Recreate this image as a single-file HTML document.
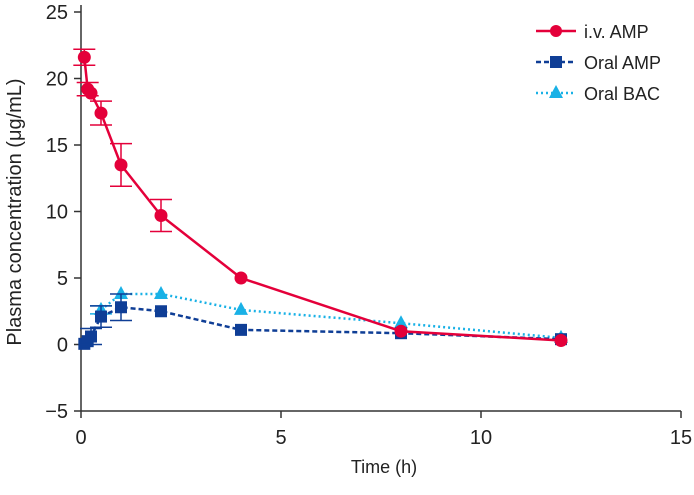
<!DOCTYPE html>
<html><head><meta charset="utf-8"><style>
html,body{margin:0;padding:0;background:#fff;}
svg text{font-family:"Liberation Sans",sans-serif;fill:#222;}
</style></head><body>
<svg id="chart" width="694" height="490" xmlns="http://www.w3.org/2000/svg">
<g id="axes"></g><g id="series"></g>
<g>
 <g>
  <line x1="536" y1="31" x2="576" y2="31" stroke="#e4003a" stroke-width="2.5"/>
  <circle cx="556" cy="31" r="6" fill="#e4003a"/>
  <text x="584" y="38" font-size="18">i.v. AMP</text></g>
 <g>
  <line x1="536" y1="62" x2="576" y2="62" stroke="#0f3e96" stroke-width="2.5" stroke-dasharray="5,3"/>
  <rect x="550" y="56" width="12" height="12" fill="#0f3e96"/>
  <text x="584" y="69" font-size="18">Oral AMP</text></g>
 <g>
  <line x1="536" y1="93" x2="576" y2="93" stroke="#19b1e6" stroke-width="2.5" stroke-dasharray="2,3"/>
  <polygon points="556,85 563,98 549,98" fill="#19b1e6"/>
  <text x="584" y="100" font-size="18">Oral BAC</text></g>
</g>
</svg>
<script>
const xTicks=[0,5,10,15];
const yTicks=[-5,0,5,10,15,20,25];
const ivTimes=[0.083,0.167,0.25,0.5,1,2,4,8,12];
const ivValues=[21.6,19.2,18.9,17.4,13.5,9.7,5.0,1.0,0.3];
const ivErrors=[0.6,0.5,0,0.9,1.6,1.2,0,0,0];
const oralAmpTimes=[0.083,0.167,0.25,0.5,1,2,4,8,12];
const oralAmpValues=[0.05,0.25,0.6,2.1,2.8,2.5,1.1,0.85,0.4];
const oralAmpErrors=[0,0,0.6,0.8,1.0,0,0,0,0];
const oralBacTimes=[0.5,1,2,4,8,12];
const oralBacValues=[2.6,3.8,3.8,2.6,1.6,0.5];
const oralBacErrors=[0.3,0,0,0,0,0];

const NS="http://www.w3.org/2000/svg";
const X=v=>81+v*40;
const Y=v=>344.5-v*13.3;
function el(parent,tag,attrs){const e=document.createElementNS(NS,tag);for(const k in attrs)e.setAttribute(k,attrs[k]);parent.appendChild(e);return e;}
const axes=document.getElementById('axes'),series=document.getElementById('series');
let a=el(axes,'line',{x1:81,y1:5,x2:81,y2:411,stroke:'#333','stroke-width':1.5});


a=el(axes,'line',{x1:81,y1:411,x2:681,y2:411,stroke:'#333','stroke-width':1.5});


yTicks.forEach(t=>{el(axes,'line',{x1:74,x2:81,y1:Y(t),y2:Y(t),stroke:'#333','stroke-width':1.5});
 const tx=el(axes,'text',{x:68,y:Y(t)+7,'font-size':20,'text-anchor':'end'});tx.textContent=t<0?'\u2212'+(-t):t;
 
 });
xTicks.forEach(t=>{el(axes,'line',{x1:X(t),x2:X(t),y1:411,y2:418,stroke:'#333','stroke-width':1.5});
 const tx=el(axes,'text',{x:X(t),y:444,'font-size':20,'text-anchor':'middle'});tx.textContent=t;
 
 });
let t=el(axes,'text',{x:384,y:473,'font-size':18,'text-anchor':'middle'});t.textContent='Time (h)';


t=el(axes,'text',{x:0,y:0,'font-size':20,'text-anchor':'middle',transform:'translate(21,212) rotate(-90)'});t.textContent='Plasma concentration (\u03bcg/mL)';



function draw(name,times,vals,errs,color,dash,shape){
 const g=el(series,'g',{});
 
 
 const p=el(g,'polyline',{points:times.map((x,i)=>X(x)+','+Y(vals[i])).join(' '),fill:'none',stroke:color,'stroke-width':2.5,'stroke-dasharray':dash});
 
 
 times.forEach((x,i)=>{
  const cx=X(x),cy=Y(vals[i]),e=errs[i];
  if(e>0){const eb=el(g,'path',{d:`M${cx},${Y(vals[i]+e)}V${Y(vals[i]-e)}M${cx-11},${Y(vals[i]+e)}h22M${cx-11},${Y(vals[i]-e)}h22`,stroke:color,'stroke-width':1.5,fill:'none'});
   
   }
  let m;
  if(shape==='c')m=el(g,'circle',{cx:cx,cy:cy,r:6.5,fill:color});
  else if(shape==='s')m=el(g,'rect',{x:cx-6,y:cy-6,width:12,height:12,fill:color});
  else m=el(g,'polygon',{points:`${cx},${cy-8} ${cx+7},${cy+5} ${cx-7},${cy+5}`,fill:color});
  
  
 });
}
draw('oral-bac',oralBacTimes,oralBacValues,oralBacErrors,'#19b1e6','2,3','t');
draw('oral-amp',oralAmpTimes,oralAmpValues,oralAmpErrors,'#0f3e96','5,3','s');
draw('iv-amp',ivTimes,ivValues,ivErrors,'#e4003a','none','c');
</script>
</body></html>
